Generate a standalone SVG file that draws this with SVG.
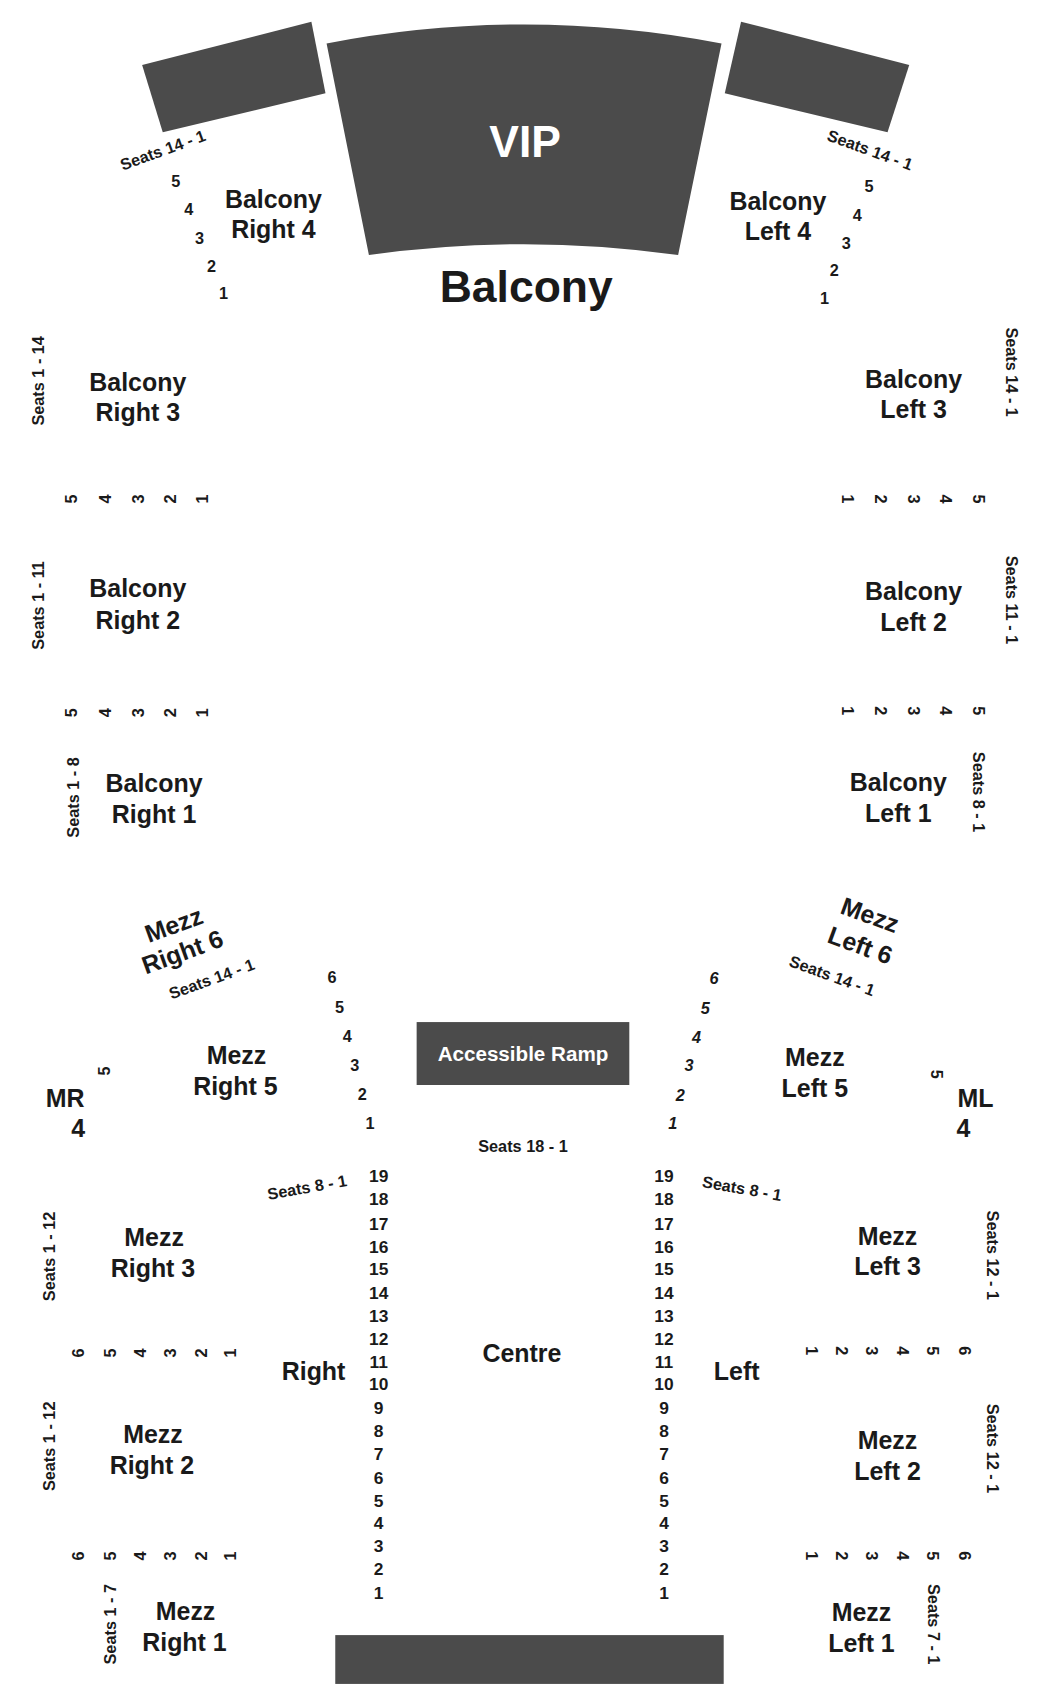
<svg xmlns="http://www.w3.org/2000/svg" width="1050" height="1700" viewBox="0 0 1050 1700">
<style>
text{font-family:"Liberation Sans",Arial,sans-serif;font-weight:bold;fill:#1a1a1a;text-anchor:middle;dominant-baseline:central}
.l{font-size:23px}.s{font-size:15px}.n{font-size:16px}.b{font-size:41px}
.sh{fill:#4b4b4b}
</style>
<rect width="1050" height="1700" fill="#fff"/>
<g transform="scale(1.085)">
<g id="shapes">
<polygon class="sh" points="131,60 287,20 300,86 150,122"/>
<path class="sh" d="M301,40 Q483,5 665,40 L625,235 Q483,215 340,235 Z"/>
<polygon class="sh" points="683,20 838,60 818,122 668,86"/>
<rect class="sh" x="309" y="1507" width="358" height="45"/>
<rect class="sh" x="384" y="942" width="196" height="58"/>
<text class="b" x="484" y="130" style="fill:#fff">VIP</text>
<text class="b" x="485" y="264">Balcony</text>
<text x="482" y="971" style="fill:#fff;font-size:19px">Accessible Ramp</text>
</g>
<g id="balcony">
<text class="l" x="252" y="183">Balcony</text><text class="l" x="252" y="211">Right 4</text>
<text class="l" x="717" y="185">Balcony</text><text class="l" x="717" y="213">Left 4</text>
<text class="s" transform="translate(150,138) rotate(-20)">Seats 14 - 1</text>
<text class="s" x="162" y="167">5</text><text class="s" x="174" y="193">4</text><text class="s" x="184" y="219">3</text><text class="s" x="195" y="245">2</text><text class="s" x="206" y="270">1</text>
<text class="s" transform="translate(802,138) rotate(20)">Seats 14 - 1</text>
<text class="s" x="801" y="171">5</text><text class="s" x="790" y="198">4</text><text class="s" x="780" y="224">3</text><text class="s" x="769" y="249">2</text><text class="s" x="760" y="275">1</text>
<text class="l" x="127" y="352">Balcony</text><text class="l" x="127" y="380">Right 3</text>
<text class="l" x="842" y="349">Balcony</text><text class="l" x="842" y="377">Left 3</text>
<text class="s" transform="translate(35,351) rotate(-90)">Seats 1 - 14</text>
<text class="s" transform="translate(933,343) rotate(90)">Seats 14 - 1</text>
<text class="l" x="127" y="542">Balcony</text><text class="l" x="127" y="571">Right 2</text>
<text class="l" x="842" y="545">Balcony</text><text class="l" x="842" y="573">Left 2</text>
<text class="s" transform="translate(35,558) rotate(-90)">Seats 1 - 11</text>
<text class="s" transform="translate(933,553) rotate(90)">Seats 11 - 1</text>
<text class="l" x="142" y="722">Balcony</text><text class="l" x="142" y="750">Right 1</text>
<text class="l" x="828" y="721">Balcony</text><text class="l" x="828" y="749">Left 1</text>
<text class="s" transform="translate(67,735) rotate(-90)">Seats 1 - 8</text>
<text class="s" transform="translate(902,730) rotate(90)">Seats 8 - 1</text>
<g class="rows">
<text class="s" transform="translate(65,460) rotate(-90)">5</text><text class="s" transform="translate(97,460) rotate(-90)">4</text><text class="s" transform="translate(127,460) rotate(-90)">3</text><text class="s" transform="translate(157,460) rotate(-90)">2</text><text class="s" transform="translate(186,460) rotate(-90)">1</text>
<text class="s" transform="translate(782,460) rotate(90)">1</text><text class="s" transform="translate(812,460) rotate(90)">2</text><text class="s" transform="translate(842,460) rotate(90)">3</text><text class="s" transform="translate(872,460) rotate(90)">4</text><text class="s" transform="translate(902,460) rotate(90)">5</text>
<text class="s" transform="translate(65,657) rotate(-90)">5</text><text class="s" transform="translate(97,657) rotate(-90)">4</text><text class="s" transform="translate(127,657) rotate(-90)">3</text><text class="s" transform="translate(157,657) rotate(-90)">2</text><text class="s" transform="translate(186,657) rotate(-90)">1</text>
<text class="s" transform="translate(782,655) rotate(90)">1</text><text class="s" transform="translate(812,655) rotate(90)">2</text><text class="s" transform="translate(842,655) rotate(90)">3</text><text class="s" transform="translate(872,655) rotate(90)">4</text><text class="s" transform="translate(902,655) rotate(90)">5</text>
</g>
</g>
<g id="mezz-upper">
<text class="l" transform="translate(160,852) rotate(-20)">Mezz</text>
<text class="l" transform="translate(168,877) rotate(-20)">Right 6</text>
<text class="s" transform="translate(195,902) rotate(-20)">Seats 14 - 1</text>
<text class="l" transform="translate(802,843) rotate(20)">Mezz</text>
<text class="l" transform="translate(793,871) rotate(20)">Left 6</text>
<text class="s" transform="translate(767,899) rotate(20)">Seats 14 - 1</text>
<text class="s" x="306" y="900">6</text><text class="s" x="313" y="928">5</text><text class="s" x="320" y="955">4</text><text class="s" x="327" y="982">3</text><text class="s" x="334" y="1008">2</text><text class="s" x="341" y="1035">1</text>
<text class="s" x="658" y="901" font-style="italic">6</text><text class="s" x="650" y="929" font-style="italic">5</text><text class="s" x="642" y="956" font-style="italic">4</text><text class="s" x="635" y="982" font-style="italic">3</text><text class="s" x="627" y="1009" font-style="italic">2</text><text class="s" x="620" y="1035" font-style="italic">1</text>
<text class="l" x="218" y="972">Mezz</text><text class="l" x="217" y="1001">Right 5</text>
<text class="l" x="751" y="974">Mezz</text><text class="l" x="751" y="1003">Left 5</text>
<text class="l" x="60" y="1012">MR</text><text class="l" x="72" y="1040">4</text>
<text class="l" x="899" y="1012">ML</text><text class="l" x="888" y="1040">4</text>
<text class="s" transform="translate(96,987) rotate(-90)">5</text>
<text class="s" transform="translate(864,990) rotate(90)">5</text>
<text class="s" x="482" y="1056">Seats 18 - 1</text>
<text class="s" transform="translate(283,1094) rotate(-10)">Seats 8 - 1</text>
<text class="s" transform="translate(684,1095) rotate(10)">Seats 8 - 1</text>
</g>
<g id="orchestra">
<text class="l" x="289" y="1264">Right</text><text class="l" x="481" y="1247">Centre</text><text class="l" x="679" y="1264">Left</text>
<g>
<text class="n" x="349" y="1084">19</text><text class="n" x="349" y="1105">18</text><text class="n" x="349" y="1128">17</text><text class="n" x="349" y="1149">16</text><text class="n" x="349" y="1170">15</text><text class="n" x="349" y="1192">14</text><text class="n" x="349" y="1213">13</text><text class="n" x="349" y="1234">12</text><text class="n" x="349" y="1255">11</text><text class="n" x="349" y="1276">10</text><text class="n" x="349" y="1298">9</text><text class="n" x="349" y="1319">8</text><text class="n" x="349" y="1340">7</text><text class="n" x="349" y="1362">6</text><text class="n" x="349" y="1383">5</text><text class="n" x="349" y="1404">4</text><text class="n" x="349" y="1425">3</text><text class="n" x="349" y="1446">2</text><text class="n" x="349" y="1468">1</text>
<text class="n" x="612" y="1084">19</text><text class="n" x="612" y="1105">18</text><text class="n" x="612" y="1128">17</text><text class="n" x="612" y="1149">16</text><text class="n" x="612" y="1170">15</text><text class="n" x="612" y="1192">14</text><text class="n" x="612" y="1213">13</text><text class="n" x="612" y="1234">12</text><text class="n" x="612" y="1255">11</text><text class="n" x="612" y="1276">10</text><text class="n" x="612" y="1298">9</text><text class="n" x="612" y="1319">8</text><text class="n" x="612" y="1340">7</text><text class="n" x="612" y="1362">6</text><text class="n" x="612" y="1383">5</text><text class="n" x="612" y="1404">4</text><text class="n" x="612" y="1425">3</text><text class="n" x="612" y="1446">2</text><text class="n" x="612" y="1468">1</text>
</g>
</g>
<g id="mezz-lower">
<text class="l" x="142" y="1140">Mezz</text><text class="l" x="141" y="1169">Right 3</text>
<text class="l" x="818" y="1139">Mezz</text><text class="l" x="818" y="1167">Left 3</text>
<text class="s" transform="translate(45,1158) rotate(-90)">Seats 1 - 12</text>
<text class="s" transform="translate(915,1157) rotate(90)">Seats 12 - 1</text>
<text class="l" x="141" y="1322">Mezz</text><text class="l" x="140" y="1350">Right 2</text>
<text class="l" x="818" y="1327">Mezz</text><text class="l" x="818" y="1356">Left 2</text>
<text class="s" transform="translate(45,1333) rotate(-90)">Seats 1 - 12</text>
<text class="s" transform="translate(915,1335) rotate(90)">Seats 12 - 1</text>
<text class="l" x="171" y="1485">Mezz</text><text class="l" x="170" y="1513">Right 1</text>
<text class="l" x="794" y="1486">Mezz</text><text class="l" x="794" y="1514">Left 1</text>
<text class="s" transform="translate(101,1497) rotate(-90)">Seats 1 - 7</text>
<text class="s" transform="translate(861,1497) rotate(90)">Seats 7 - 1</text>
<text class="s" transform="translate(72,1247) rotate(-90)">6</text><text class="s" transform="translate(101,1247) rotate(-90)">5</text><text class="s" transform="translate(129,1247) rotate(-90)">4</text><text class="s" transform="translate(157,1247) rotate(-90)">3</text><text class="s" transform="translate(185,1247) rotate(-90)">2</text><text class="s" transform="translate(212,1247) rotate(-90)">1</text>
<text class="s" transform="translate(748,1245) rotate(90)">1</text><text class="s" transform="translate(776,1245) rotate(90)">2</text><text class="s" transform="translate(804,1245) rotate(90)">3</text><text class="s" transform="translate(832,1245) rotate(90)">4</text><text class="s" transform="translate(860,1245) rotate(90)">5</text><text class="s" transform="translate(889,1245) rotate(90)">6</text>
<text class="s" transform="translate(72,1434) rotate(-90)">6</text><text class="s" transform="translate(101,1434) rotate(-90)">5</text><text class="s" transform="translate(129,1434) rotate(-90)">4</text><text class="s" transform="translate(157,1434) rotate(-90)">3</text><text class="s" transform="translate(185,1434) rotate(-90)">2</text><text class="s" transform="translate(212,1434) rotate(-90)">1</text>
<text class="s" transform="translate(748,1434) rotate(90)">1</text><text class="s" transform="translate(776,1434) rotate(90)">2</text><text class="s" transform="translate(804,1434) rotate(90)">3</text><text class="s" transform="translate(832,1434) rotate(90)">4</text><text class="s" transform="translate(860,1434) rotate(90)">5</text><text class="s" transform="translate(889,1434) rotate(90)">6</text>
</g>
<g id="connectors"/>
</g>
</svg>
